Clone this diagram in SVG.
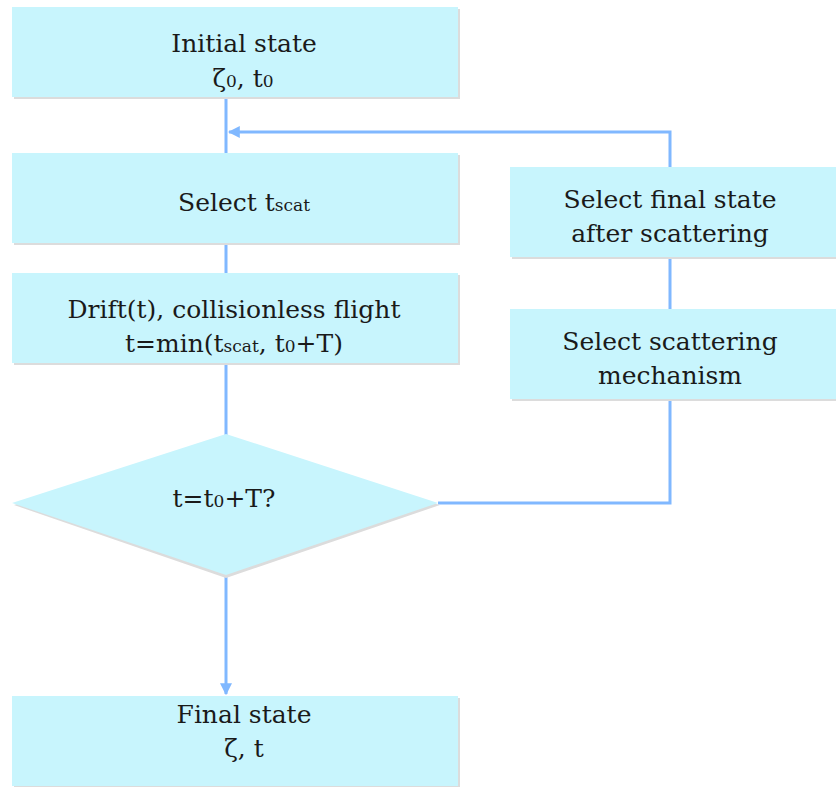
<svg xmlns="http://www.w3.org/2000/svg" width="836" height="787" viewBox="0 0 836 787">
<style>
.box{fill:#c8f5fd}
.sh{fill:#dcdcdc}
.t{font-family:"DejaVu Serif","Liberation Serif",serif;font-size:25px;fill:#1a1a1a;text-anchor:middle}
.s{font-size:17px}
.ln{fill:none;stroke:#80b8ff;stroke-width:3}
</style>
<defs>
<marker id="ah" viewBox="0 0 10 10" refX="9" refY="5" markerWidth="4" markerHeight="4" orient="auto" markerUnits="strokeWidth">
<path d="M0,0 L10,5 L0,10 z" fill="#80b8ff"/>
</marker>
</defs>
<rect width="836" height="787" fill="#fff"/>
<g id="connectors">
<path class="ln" d="M226,97 V575"/>
<path class="ln" d="M226,575 V694" marker-end="url(#ah)"/>
<path class="ln" d="M438,503 H670 V132 H229" marker-end="url(#ah)"/>
</g>
<g id="n_initial">
<rect class="sh" x="14" y="9" width="446" height="90"/>
<rect class="box" x="12" y="7" width="446" height="90"/>
<text class="t" x="244" y="52">Initial state</text>
<text class="t" x="243" y="87">ζ<tspan class="s">0</tspan>, t<tspan class="s">0</tspan></text>
</g>
<g id="n_select_t">
<rect class="sh" x="14" y="155" width="446" height="90"/>
<rect class="box" x="12" y="153" width="446" height="90"/>
<text class="t" x="244" y="211">Select t<tspan class="s">scat</tspan></text>
</g>
<g id="n_drift">
<rect class="sh" x="14" y="275" width="446" height="90"/>
<rect class="box" x="12" y="273" width="446" height="90"/>
<text class="t" x="234" y="318">Drift(t), collisionless flight</text>
<text class="t" x="234" y="352">t=min(t<tspan class="s">scat</tspan>, t<tspan class="s">0</tspan>+T)</text>
</g>
<g id="n_decision">
<polygon points="226,436 14,505 226,578 440,505" fill="#dcdcdc"/>
<polygon class="box" points="226,434 12,503 226,575 438,503"/>
<text class="t" x="224" y="507">t=t<tspan class="s">0</tspan>+T?</text>
</g>
<g id="n_final">
<rect class="sh" x="14" y="698" width="446" height="90"/>
<rect class="box" x="12" y="696" width="446" height="90"/>
<text class="t" x="244" y="723">Final state</text>
<text class="t" x="244" y="757">ζ, t</text>
</g>
<g id="n_final_state">
<rect class="sh" x="512" y="169" width="326" height="90"/>
<rect class="box" x="510" y="167" width="326" height="90"/>
<text class="t" x="670" y="208">Select final state</text>
<text class="t" x="670" y="242">after scattering</text>
</g>
<g id="n_mechanism">
<rect class="sh" x="512" y="311" width="326" height="90"/>
<rect class="box" x="510" y="309" width="326" height="90"/>
<text class="t" x="670" y="350">Select scattering</text>
<text class="t" x="670" y="384">mechanism</text>
</g>
</svg>
